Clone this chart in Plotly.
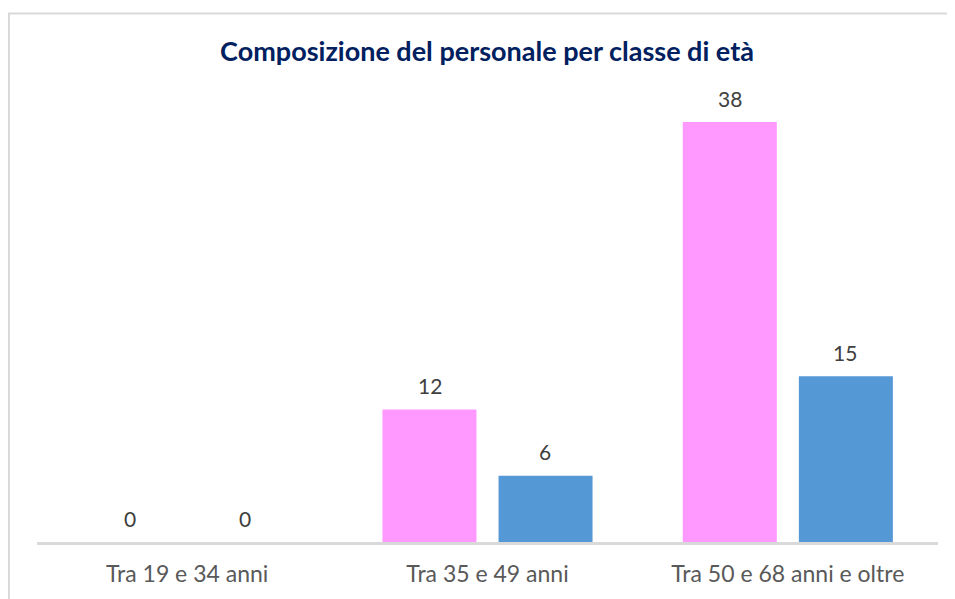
import plotly.graph_objects as go

# dati
classi = ['Tra 19 e 34 anni', 'Tra 35 e 49 anni', 'Tra 50 e 68 anni e oltre']
donne = [0, 12, 38]
uomini = [0, 6, 15]

# la pagina ha 8px di margine sul body: figura un po' piu piccola
W, H = 947, 591
ml, mr, mt, mb = 29, 17, 92, 55

fig = go.Figure()
fig.add_trace(go.Bar(x=classi, y=donne, name='Donne',
                     marker=dict(color='#FF99FF', line=dict(width=0))))
fig.add_trace(go.Bar(x=classi, y=uomini, name='Uomini',
                     marker=dict(color='#5598D6', line=dict(width=0))))

# etichette dei valori sopra le barre
for serie, dx in [(donne, -57.5), (uomini, 57.5)]:
    for c, v in zip(classi, serie):
        fig.add_annotation(x=c, y=v, text=str(v), showarrow=False,
                           xshift=dx, yshift=24, yanchor='middle',
                           font=dict(color='#404040', size=21))

pw = W - ml - mr
ph = H - mt - mb
# cornice del grafico
fig.add_shape(type='rect', xref='paper', yref='paper',
              x0=(1 - ml) / pw, x1=(W + 20 - ml) / pw,
              y0=-(H + 20 - mt - ph) / ph, y1=1 + (mt - 5) / ph,
              line=dict(color='#D9D9D9', width=2), fillcolor='rgba(0,0,0,0)', layer='below')

fig.update_layout(
    width=W, height=H,
    margin=dict(l=ml, r=mr, t=mt, b=mb),
    paper_bgcolor='white', plot_bgcolor='white',
    font=dict(family='Lato, Open Sans, sans-serif', color='#595959'),
    title=dict(text='<b>Composizione del personale per classe di età</b>',
               x=479 / W, xanchor='center', y=1 - 44 / H, yanchor='middle',
               font=dict(size=27, color='#002060')),
    showlegend=False,
    barmode='group', bargap=0.227, bargroupgap=0.19,
    xaxis=dict(showline=True, linecolor='#D9D9D9', linewidth=3, ticks='',
               ticklabelstandoff=9,
               tickfont=dict(size=23, color='#595959'), showgrid=False),
    yaxis=dict(range=[0, 40], visible=False, showgrid=False),
)

fig.write_html("out.html")
